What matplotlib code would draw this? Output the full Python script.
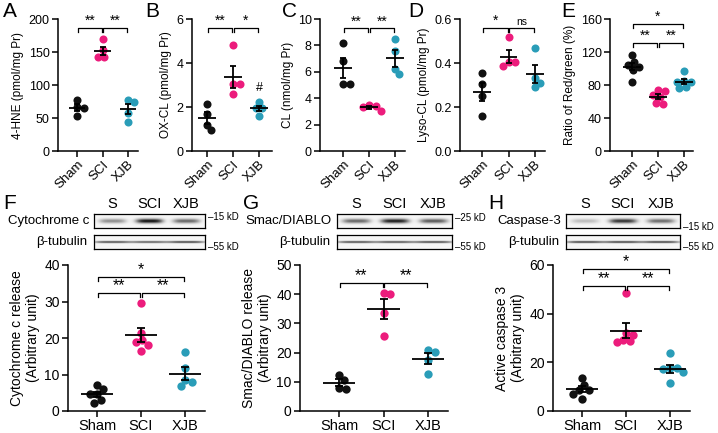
import numpy as np
import matplotlib
matplotlib.use('Agg')
import matplotlib.pyplot as plt

plt.rcParams['font.family'] = ['Liberation Sans', 'DejaVu Sans']
plt.rcParams['axes.linewidth'] = 1.1

W, H = 718, 433
groups = ['Sham', 'SCI', 'XJB']
colors = ['#111111', '#EC1C7C', '#2A9DB8']

# --- panel data ---
hne = [[78, 66, 65, 53], [169, 153, 143, 142], [78, 74, 57, 44]]
oxcl = [[2.13, 1.70, 1.20, 0.94], [4.82, 3.04, 3.04, 2.61], [2.23, 1.96, 1.96, 1.58]]
cl = [[8.2, 6.8, 5.1, 5.1], [3.5, 3.4, 3.3, 3.05], [8.5, 7.6, 6.2, 5.8]]
lysocl = [[0.355, 0.305, 0.25, 0.16], [0.52, 0.405, 0.405, 0.386], [0.47, 0.33, 0.31, 0.29]]
redgreen = [[116, 108, 104, 102, 98, 84], [74, 73, 68, 65, 57, 58], [97, 84, 84, 85, 77, 76]]
cytc = [[7.0, 6.1, 4.6, 4.6, 3.0, 2.3], [29.7, 21.4, 19.5, 18.9, 18.2, 16.5], [16.3, 11.7, 8.4, 7.9, 6.8]]
smac = [[12.4, 10.7, 8.0, 7.5], [40.4, 39.9, 33.4, 25.6], [21.0, 20.2, 17.6, 12.6]]
casp = [[13.5, 10.7, 8.7, 8.5, 7.0, 5.1], [48.5, 32.0, 31.3, 29.3, 28.6, 28.2], [23.7, 17.8, 17.5, 17.2, 16.0, 11.5]]

# blot band intensities per lane (S, SCI, XJB)
cytc_band = [0.45, 1.0, 0.62]
smac_band = [0.62, 0.95, 0.68]
casp_band = [0.25, 0.85, 0.6]
tub_f = [0.8, 0.72, 0.85]
tub_g = [0.8, 0.78, 0.82]
tub_h = [0.85, 0.85, 0.85]


def px_ax(x0, y0, x1, y1):
    return fig.add_axes([x0 / W, 1 - y1 / H, (x1 - x0) / W, (y1 - y0) / H])


def swarm(vals, dx, dy):
    # simple beeswarm: offsets in x so dots don't overlap
    order = np.argsort(vals)[::-1]
    placed = []
    offs = np.zeros(len(vals))
    for k in order:
        y = vals[k] / dy
        cands = [0.0]
        for (px, py) in placed:
            d = abs(py - y)
            if d < 1:
                s = np.sqrt(1 - d * d)
                cands += [px + s, px - s]
        good = []
        for c in cands:
            if all((c - px) ** 2 + (y - py) ** 2 >= 0.999 for (px, py) in placed):
                good.append(c)
        c = min(good, key=abs)
        placed.append((c, y))
        offs[k] = c * dx
    return offs


def dot_panel(ax, data, ylim, yticks, ylabel, brackets, pxu, pxh, rot, fs_tick, fs_xt, fs_lab, ms, mw, cw):
    diam = ms * 100 / 72 * 0.85
    dx = diam / pxu
    dy = diam / pxh * (ylim[1] - ylim[0])
    for i, vals in enumerate(data):
        v = np.array(vals, dtype=float)
        off = swarm(v, dx, dy)
        ax.plot(i + off, v, 'o', color=colors[i], ms=ms, mec='none', zorder=2, clip_on=False)
        m = v.mean()
        se = v.std(ddof=1) / np.sqrt(len(v))
        ax.hlines(m, i - mw, i + mw, color='black', lw=1.3, zorder=3)
        ax.errorbar(i, m, yerr=se, color='black', lw=1.3, capsize=cw, capthick=1.3, zorder=3)
    ax.set_ylim(*ylim)
    ax.set_yticks(yticks)
    ax.set_xticks(range(3))
    if rot:
        ax.set_xticklabels(groups, rotation=45, ha='right', rotation_mode='anchor')
    else:
        ax.set_xticklabels(groups)
    ax.tick_params(labelsize=fs_tick, length=4, width=1.1, pad=2)
    ax.tick_params(axis='x', labelsize=fs_xt, pad=1.5)
    ax.set_ylabel(ylabel, fontsize=fs_lab, labelpad=3)
    for s in ['top', 'right']:
        ax.spines[s].set_visible(False)
    span = ylim[1] - ylim[0]
    for (a, b, h, lab) in brackets:
        t = 0.03 * span
        ax.plot([a + 0.02, a + 0.02, b - 0.02, b - 0.02], [h - t, h, h, h - t], color='black', lw=0.9, clip_on=False)
        dyl = 0.0 if '*' in lab else 0.01 * span
        ax.text((a + b) / 2, h + dyl, lab, ha='center', va='bottom', fontsize=fs_lab + 1.5 if '*' in lab else fs_lab - 1)


def blot(x0, y0, x1, y1, bands, thick):
    ax = px_ax(x0, y0, x1, y1)
    xs = np.linspace(0, 3, 300)
    ys = np.linspace(0, 1, 40)
    X, Y = np.meshgrid(xs, ys)
    img = np.zeros_like(X)
    for i, b in enumerate(bands):
        wx = 0.36 if thick else 0.5
        img += b * np.exp(-np.abs((X - i - 0.5) / wx) ** 4) * np.exp(-((Y - 0.5) / (0.16 if thick else 0.07)) ** 2)
    img = np.clip(img, 0, 1) + 0.04
    ax.imshow(img, cmap='gray_r', vmin=0, vmax=1.1, extent=(0, 3, 0, 1), aspect='auto', interpolation='bilinear')
    ax.set_xticks([])
    ax.set_yticks([])
    for s in ax.spines.values():
        s.set_linewidth(0.9)
    return ax


fig = plt.figure(figsize=(W / 100, H / 100), dpi=100)

# --- top row ---
top = [
    ('A', 3, 58, 77, 128, 138, hne, (0, 200), [0, 50, 100, 150, 200], '4-HNE (pmol/mg Pr)',
     [(0, 1, 186, '**'), (1, 2, 186, '**')]),
    ('B', 145, 192, 207, 259, 272, oxcl, (0, 6), [0, 2, 4, 6], 'OX-CL (pmol/mg Pr)',
     [(0, 1, 5.58, '**'), (1, 2, 5.58, '*')]),
    ('C', 282, 320, 343, 395, 405, cl, (0, 10), [0, 2, 4, 6, 8, 10], 'CL (nmol/mg Pr)',
     [(0, 1, 9.29, '**'), (1, 2, 9.29, '**')]),
    ('D', 408, 460, 482, 535, 545, lysocl, (0, 0.6), [0.0, 0.2, 0.4, 0.6], 'Lyso-CL (pmol/mg Pr)',
     [(0, 1, 0.558, '*'), (1, 2, 0.558, 'ns')]),
    ('E', 561, 610, 632, 684, 693, redgreen, (0, 160), [0, 40, 80, 120, 160], 'Ratio of Red/green (%)',
     [(0, 1, 131, '**'), (1, 2, 131, '**'), (0, 2, 154, '*')]),
]
for (let, lx, sx, x0, x2, rx, data, ylim, yt, yl, br) in top:
    ax = px_ax(sx, 19, rx, 151)
    u = (x2 - x0) / 2
    ax.set_xlim(-(x0 - sx) / u, 2 + (rx - x2) / u)
    dot_panel(ax, data, ylim, yt, yl, br, u, 132, True, 9, 9.5, 8.5, 5.8, 0.33, 2.5)
    if ylim[1] < 1:
        ax.set_yticklabels(['%.1f' % t for t in yt])
    fig.text(lx / W, 1 - 2 / H, let, fontsize=15, va='top', ha='left')
    if let == 'B':
        ax.text(2, np.mean(oxcl[2]) + 0.65, '#', ha='center', va='bottom', fontsize=9)

# --- bottom row ---
bottom = [
    ('F', 3, 68, 97, 185, 205, cytc, (0, 40), [0, 10, 20, 30, 40], 'Cytochrome c release\n(Arbitrary unit)',
     [(0, 1, 32.3, '**'), (1, 2, 32.3, '**'), (0, 2, 36.7, '*')]),
    ('G', 243, 300, 339, 428, 448, smac, (0, 50), [0, 10, 20, 30, 40, 50], 'Smac/DIABLO release\n(Arbitrary unit)',
     [(0, 1, 43.8, '**'), (1, 2, 43.8, '**')]),
    ('H', 488, 553, 582, 670, 690, casp, (0, 60), [0, 20, 40, 60], 'Active caspase 3\n(Arbitrary unit)',
     [(0, 1, 51.5, '**'), (1, 2, 51.5, '**'), (0, 2, 58.4, '*')]),
]
for (let, lx, sx, x0, x2, rx, data, ylim, yt, yl, br) in bottom:
    ax = px_ax(sx, 265, rx, 411)
    u = (x2 - x0) / 2
    ax.set_xlim(-(x0 - sx) / u, 2 + (rx - x2) / u)
    dot_panel(ax, data, ylim, yt, yl, br, u, 146, False, 10, 10.5, 10, 6.0, 0.36, 3)

blots = [
    ('F', 3, 94, 205, 'Cytochrome c', cytc_band, tub_f, '15 kD', 217),
    ('G', 243, 337, 452, 'Smac/DIABLO', smac_band, tub_g, '25 kD', 218),
    ('H', 488, 566, 680, 'Caspase-3', casp_band, tub_h, '15 kD', 227),
]
for (let, lx, bx0, bx1, name, band, tub, kd, kdy) in blots:
    a1 = blot(bx0, 214, bx1, 228, band, True)
    a2 = blot(bx0, 235, bx1, 249, tub, False)
    for i, g in enumerate(['S', 'SCI', 'XJB']):
        a1.text(i + 0.5, 1.25, g, ha='center', va='bottom', fontsize=10.5, transform=a1.transData, clip_on=False)
    fig.text((bx0 - 5) / W, 1 - 221 / H, name, ha='right', va='center', fontsize=9.5)
    fig.text((bx0 - 7) / W, 1 - 242 / H, 'β-tubulin', ha='right', va='center', fontsize=9.5)
    fig.text((bx1 + 3) / W, 1 - kdy / H, '\u2013' + kd, ha='left', va='center', fontsize=7)
    fig.text((bx1 + 3) / W, 1 - 247 / H, '\u201355 kD', ha='left', va='center', fontsize=7)
    fig.text(lx / W, 1 - 194 / H, let, fontsize=15, va='top', ha='left')

fig.savefig('out.png', dpi=100)
